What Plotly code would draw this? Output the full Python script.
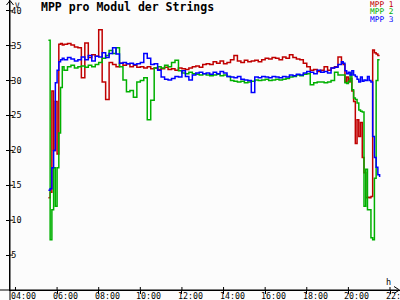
import plotly.graph_objects as go

def grid(start, end, step):
    h0, m0 = map(int, start.split(":"))
    h1, m1 = map(int, end.split(":"))
    out = []
    t = h0 * 60 + m0
    while t <= h1 * 60 + m1:
        out.append(f"{t // 60:02d}:{t % 60:02d}")
        t += step
    return out

times = grid("05:35", "06:20", 5) + grid("06:30", "19:40", 10) + grid("19:45", "21:30", 5)

mpp1 = [
    13.2, 14.0, 28.5, 20.0, 27.0, 19.5, 35.2, 35.3, 35.1, 35.2,
    35.3, 35.1, 34.8, 34.7, 30.4, 35.4, 33.3, 33.7, 33.5, 37.3,
    29.8, 27.3, 32.6, 32.3, 32.0, 32.5, 32.2, 32.4, 32.0, 32.2,
    31.9, 32.0, 31.8, 32.0, 31.7, 31.8, 31.6, 31.7, 31.9, 31.6,
    31.7, 31.5, 31.8, 31.7, 31.6, 31.8, 32.0, 32.1, 31.9, 32.3,
    32.4, 32.3, 32.7, 32.5, 32.8, 32.4, 32.6, 33.0, 33.6, 32.8,
    32.6, 32.9, 32.7, 32.8, 32.9, 32.7, 33.0, 33.2, 33.1, 33.3,
    33.2, 33.0, 33.4, 33.2, 33.7, 33.3, 33.1, 33.0, 32.5, 32.0,
    31.5, 31.6, 31.3, 31.5, 32.0, 31.5, 31.8, 32.0, 33.4, 32.5,
    32.3, 29.8, 30.5, 29.8, 30.3, 28.5, 27.0, 21.0, 24.4, 22.0,
    24.0, 19.0, 16.8, 13.2, 13.3, 13.2, 13.4, 34.4, 34.0, 33.8,
    33.6, 33.6,
]

mpp2 = [
    35.8, 7.2, 11.5, 17.5, 12.0, 17.5, 22.5, 29.0, 32.0, 31.5,
    32.0, 32.2, 31.8, 32.0, 32.1, 31.9, 32.2, 32.0, 32.3, 32.6,
    33.2, 33.6, 34.3, 33.9, 34.7, 32.0, 30.1, 28.4, 28.6, 27.6,
    29.8, 30.0, 30.4, 24.4, 27.2, 31.8, 32.0, 31.8, 32.2, 32.0,
    32.6, 32.9, 31.4, 31.1, 31.0, 31.2, 31.0, 30.9, 30.8, 31.0,
    30.8, 30.7, 30.8, 30.9, 30.7, 30.8, 30.6, 30.0, 29.9, 29.8,
    29.9, 29.7, 29.8, 29.9, 30.1, 30.0, 30.1, 30.2, 30.0, 30.1,
    30.2, 30.1, 30.2, 30.3, 30.5, 30.6, 30.8, 30.7, 30.9, 31.0,
    29.4, 29.7, 29.8, 29.8, 29.7, 29.8, 30.0, 31.2, 30.8, 30.8,
    30.8, 29.7, 29.6, 29.9, 31.1, 28.7, 27.5, 27.3, 26.8, 25.8,
    25.6, 25.5, 12.0, 17.3, 11.5, 11.5, 7.5, 7.2, 16.0, 30.0,
    33.0, 33.0,
]

mpp3 = [
    14.3, 14.5, 17.5, 20.0, 29.7, 31.5, 32.7, 33.0, 33.2, 33.0,
    33.3, 33.1, 32.8, 33.0, 33.4, 33.0, 33.6, 32.8, 33.5, 33.4,
    34.0, 33.3, 33.9, 34.7, 33.8, 32.5, 32.6, 32.4, 32.5, 32.3,
    32.4, 32.6, 33.9, 33.2, 32.3, 32.4, 31.5, 30.5, 30.2, 30.1,
    30.3, 30.6, 30.5, 31.4, 30.6, 30.1, 30.8, 31.1, 31.2, 31.0,
    31.1, 30.9, 31.2, 31.0, 31.3, 31.1, 30.6, 30.5, 30.4, 30.6,
    30.2, 30.1, 30.0, 28.3, 30.5, 30.4, 30.6, 30.5, 30.4, 30.6,
    30.5, 30.4, 30.6, 30.5, 30.8, 30.7, 30.9, 30.8, 31.1, 31.3,
    31.2, 31.0, 31.5, 31.2, 31.3, 31.1, 31.8, 31.9, 32.3, 32.7,
    32.5, 31.4, 31.0, 31.2, 30.8, 31.4, 30.8, 30.6, 30.2, 29.8,
    30.5, 29.9, 30.1, 30.0, 30.6, 30.0, 29.8, 22.0, 19.0, 17.6,
    16.5, 16.2,
]

series_names = ["MPP 1", "MPP 2", "MPP 3"]
series_colors = ["#c00000", "#00b000", "#0000ff"]

x_tick_hours = [4, 6, 8, 10, 12, 14, 16, 18, 20, 22]
x_tick_labels = ["04:00", "06:00", "08:00", "10:00", "12:00", "14:00", "16:00", "18:00", "20:00", "22:00"]
y_ticks = [5, 10, 15, 20, 25, 30, 35, 40]

title_text = "MPP pro Modul der Strings"
x_unit = "h"
y_unit = "V"

MONO = "DejaVu Sans Mono"

def to_hours(s):
    h, m = map(int, s.split(":"))
    return h + m / 60.0

xh = [to_hours(t) for t in times]

fig = go.Figure()
for name, vals, col in zip(series_names, [mpp1, mpp2, mpp3], series_colors):
    fig.add_trace(go.Scatter(x=xh, y=vals, mode="lines", name=name,
                             line=dict(color=col, width=1.5, shape="hv"),
                             hoverinfo="skip"))

# plot area: x 10..400 px, y 0..290 px
W, H, L, B = 400, 300, 10, 10
PW, PH = W - L, H - B
def px(x):
    return (x - L) / PW
def py(y):
    return (PH - y) / PH

shapes = []
shapes.append(dict(type="line", xref="paper", yref="paper", x0=px(0), x1=px(398), y0=0, y1=0,
                   line=dict(color="black", width=1)))
shapes.append(dict(type="line", xref="paper", yref="paper", x0=0, x1=0, y0=py(300), y1=py(1),
                   line=dict(color="black", width=1)))
shapes.append(dict(type="path", xref="paper", yref="paper",
                   path=f"M {px(394)} {py(286.5)} L {px(399.5)} {py(290)} L {px(394)} {py(293.5)}",
                   line=dict(color="black", width=1)))
shapes.append(dict(type="path", xref="paper", yref="paper",
                   path=f"M {px(6.5)} {py(5)} L {px(10)} {py(0.5)} L {px(13.5)} {py(5)}",
                   line=dict(color="black", width=1)))
for v in x_tick_hours:
    shapes.append(dict(type="line", xref="x", yref="paper", x0=v, x1=v, y0=0, y1=3 / PH,
                       line=dict(color="black", width=1)))
for v in y_ticks:
    shapes.append(dict(type="line", xref="paper", yref="y", x0=0, x1=3 / PW, y0=v, y1=v,
                       line=dict(color="black", width=1)))

annotations = [
    dict(text=f"<b>{title_text}</b>", xref="paper", yref="paper", x=px(39), y=py(7.5),
         xanchor="left", yanchor="middle", showarrow=False,
         font=dict(family=MONO, size=11.5, color="black")),
    dict(text=x_unit, xref="paper", yref="paper", x=px(388), y=py(281.5), xanchor="center",
         yanchor="middle", showarrow=False, font=dict(family=MONO, size=8.5, color="black")),
    dict(text=y_unit, xref="paper", yref="paper", x=px(17), y=1, xanchor="center",
         yanchor="top", showarrow=False, borderpad=0,
         font=dict(family=MONO, size=7.5, color="black")),
]
for i, (name, col) in enumerate(zip(series_names, series_colors)):
    annotations.append(dict(text=name, xref="paper", yref="paper", x=px(395), y=py(4 + 7.8 * i),
                            xanchor="right", yanchor="middle", showarrow=False, borderpad=0,
                            font=dict(family=MONO, size=7.8, color=col)))
for v, lab in zip(x_tick_hours, x_tick_labels):
    annotations.append(dict(text=lab, xref="x", yref="paper", x=v, y=py(296.3),
                            xanchor="left", yanchor="middle", xshift=-5, showarrow=False,
                            borderpad=0, font=dict(family=MONO, size=8.3, color="black")))

fig.update_layout(
    width=W, height=H,
    margin=dict(l=L, r=0, t=0, b=B, pad=0),
    paper_bgcolor="#fcfcfc", plot_bgcolor="#fcfcfc",
    showlegend=False,
    shapes=shapes, annotations=annotations,
    xaxis=dict(range=[3.737, 22.48], showgrid=False, zeroline=False, showline=True,
               linecolor="black", linewidth=1, ticks="outside", ticklen=3, tickcolor="black",
               tickvals=x_tick_hours, showticklabels=False, automargin=False,
               fixedrange=True),
    yaxis=dict(range=[0, 41.55], showgrid=False, zeroline=False, showline=True,
               linecolor="black", linewidth=1, ticks="outside", ticklen=3, tickcolor="black",
               tickvals=y_ticks, ticktext=[str(v) for v in y_ticks],
               ticklabelposition="inside",
               tickfont=dict(family=MONO, size=8.5, color="black"), automargin=False,
               fixedrange=True),
)

fig.write_html("out.html", config={"displayModeBar": False})
